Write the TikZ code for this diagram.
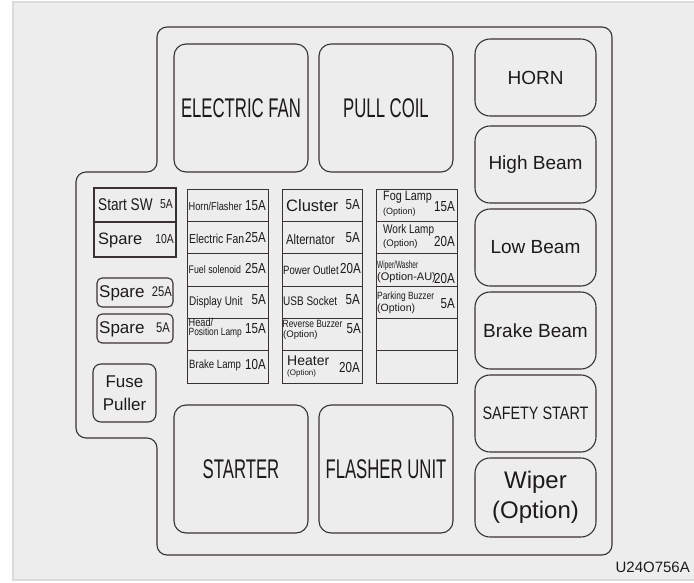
\documentclass[tikz,border=0pt]{standalone}
\usepackage{fontspec}
\setmainfont{Liberation Sans}
\newfontfamily\cond[FakeStretch=0.8]{Liberation Sans}
\newfontfamily\bcond[FakeStretch=0.62]{Liberation Sans}
\newcommand{\fsz}[1]{\fontsize{#1}{#1}\selectfont}
\definecolor{panel}{HTML}{ECEDEC}
\definecolor{rim}{HTML}{DADBDA}
\definecolor{ink}{HTML}{3A3232}
\definecolor{txt}{HTML}{1E1A1A}
\tikzset{
  line/.style={draw=ink, line width=1.1pt},
  grid/.style={draw=ink, line width=0.9pt},
  relay/.style={line, rounded corners=12, minimum width=134, minimum height=128, inner sep=0, font=\bcond\fsz{27}},
  bulb/.style={line, rounded corners=15, minimum width=121, minimum height=77, inner sep=0, font=\fsz{19}},
  spare/.style={line, rounded corners=5, minimum width=76, minimum height=29, inner sep=0},
  lab/.style={anchor=west, inner sep=0},
  amp/.style={anchor=east, inner sep=0, font=\cond\fsz{14.5}},
}
\begin{document}
\begin{tikzpicture}[x=1pt,y=-1pt,text=txt]
\useasboundingbox (0,0) rectangle (694,582);
% panel
\fill[panel] (12,2) rectangle (694,581);
\draw[rim,line width=2pt] (694,2) -- (13,2) -- (13,580) -- (694,580);

% housing
\draw[line, rounded corners=10] (300,27) -- (612,27) -- (612,555) -- (157,555) -- (157,438)
   -- (76,438) -- (76,172) -- (157,172) -- (157,27) -- cycle;

% relays
\node[relay] (efan) at (241,108) {ELECTRIC FAN};
\node[relay] (pcoil) at (386,108) {PULL COIL};
\node[relay] (starter) at (241,469) {STARTER};
\node[relay] (flasher) at (386,469) {FLASHER UNIT};

% right column
\node[bulb] (horn) at (535.5,77.5) {HORN};
\node[bulb] (hibeam) at (535.5,164.5) {High Beam};
\node[bulb] (lobeam) at (535.5,247.5) {Low Beam};
\node[bulb] (brbeam) at (535.5,330.5) {Brake Beam};
\node[bulb, font=\cond\fsz{18}] (safety) at (535.5,413.5) {SAFETY START};
\node[bulb, minimum height=79, align=center, font=\fontsize{24}{30}\selectfont] (wiper) at (535.5,497.5) {Wiper\\(Option)};

% left block
\draw[line] (94,188) rectangle (176,257);
\draw[line] (94,222) -- (176,222);
\node[lab, font=\cond\fsz{17}] (startsw) at (98,205) {Start SW};
\node[amp, font=\cond\fsz{13}] (startswA) at (173,204) {5A};
\node[lab, font=\fsz{16.5}] (spare1) at (98,240) {Spare};
\node[amp, font=\cond\fsz{13}] (spare1A) at (174,239) {10A};

\node[spare] (sp25) at (135,292.5) {};
\node[lab, font=\fsz{17}] (spare2) at (99,293) {Spare};
\node[amp, font=\cond\fsz{14}] (spare2A) at (172,292) {25A};
\node[spare] (sp5) at (135,328.5) {};
\node[lab, font=\fsz{17}] (spare3) at (99,329) {Spare};
\node[amp, font=\cond\fsz{14}] (spare3A) at (170,328) {5A};

\node[line, rounded corners=8, minimum width=63, minimum height=58, inner sep=0, align=center,
  font=\fontsize{17}{23}\selectfont] (puller) at (124.5,393) {Fuse\\Puller};

% fuse grid
\foreach \xa/\xb in {187/268, 282/362, 376/457} {
  \draw[grid] (\xa,189) rectangle (\xb,383);
  \foreach \k in {1,...,5}
    \draw[grid] (\xa,{189+32.33*\k}) -- (\xb,{189+32.33*\k});
}

% column 1
\node[lab, font=\cond\fsz{11.5}] (hornf) at (188.5,206) {Horn/Flasher};
\node[amp] (hornfA) at (266,206) {15A};
\node[lab, font=\cond\fsz{13}] (efuse) at (189,239) {Electric Fan};
\node[amp] (efuseA) at (266,238) {25A};
\node[lab, font=\cond\fsz{11}] (fuel) at (188.5,270) {Fuel solenoid};
\node[amp] (fuelA) at (266,269) {25A};
\node[lab, font=\cond\fsz{12.5}] (disp) at (189,302) {Display Unit};
\node[amp] (dispA) at (266,300) {5A};
\node[lab, font=\cond\fsz{11.5}] (headA) at (188.5,322) {Head/};
\node[lab, font=\cond\fsz{10.5}] (headB) at (188.5,333) {Position Lamp};
\node[amp] (headAmp) at (266,329) {15A};
\node[lab, font=\cond\fsz{12}] (brake) at (189,365) {Brake Lamp};
\node[amp] (brakeA) at (266,365) {10A};

% column 2
\node[lab, font=\fsz{16.5}] (clus) at (286,206) {Cluster};
\node[amp] (clusA) at (360,205) {5A};
\node[lab, font=\cond\fsz{14}] (alt) at (286,239) {Alternator};
\node[amp] (altA) at (360,238) {5A};
\node[lab, font=\cond\fsz{12}] (pwr) at (283,270) {Power Outlet};
\node[amp] (pwrA) at (361,269) {20A};
\node[lab, font=\cond\fsz{12.5}] (usb) at (283,301) {USB Socket};
\node[amp] (usbA) at (360,300) {5A};
\node[lab, font=\cond\fsz{10.5}] (revA) at (282.5,324) {Reverse Buzzer};
\node[lab, font=\fsz{9.5}] (revB) at (283,335) {(Option)};
\node[amp] (revAmp) at (361,329) {5A};
\node[lab, font=\fsz{14}] (heatA) at (287,361) {Heater};
\node[lab, font=\fsz{8}] (heatB) at (287,373) {(Option)};
\node[amp] (heatAmp) at (360,368) {20A};

% column 3
\node[lab, font=\cond\fsz{13.5}] (fogA) at (383,197) {Fog Lamp};
\node[lab, font=\fsz{9}] (fogB) at (383,212) {(Option)};
\node[amp] (fogAmp) at (455,207) {15A};
\node[lab, font=\cond\fsz{12.5}] (workA) at (383,230) {Work Lamp};
\node[lab, font=\fsz{9.5}] (workB) at (383,244) {(Option)};
\node[amp] (workAmp) at (455,242) {20A};
\node[lab, font=\bcond\fsz{10.5}] (wipA) at (377,266) {Wiper/Washer};
\node[lab, font=\fsz{11}] (wipB) at (377,278) {(Option-AU)};
\node[amp] (wipAmp) at (455,279) {20A};
\node[lab, font=\cond\fsz{10.5}] (parkA) at (377,297) {Parking Buzzer};
\node[lab, font=\fsz{10.5}] (parkB) at (377,309) {(Option)};
\node[amp] (parkAmp) at (455,304) {5A};

% drawing code
\node[anchor=east, inner sep=0, font=\fsz{15}] (code) at (690,567) {U24O756A};
\end{tikzpicture}
\end{document}
